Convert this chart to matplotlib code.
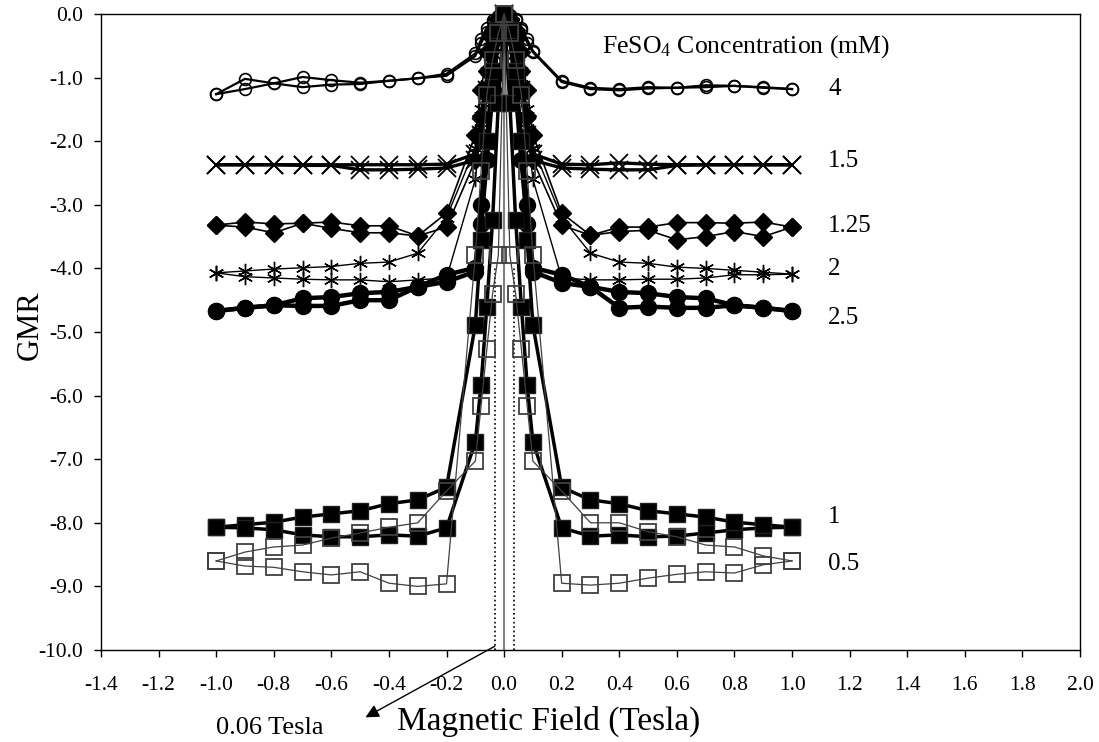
import numpy as np
import matplotlib
matplotlib.use('Agg')
import matplotlib.pyplot as plt

plt.rcParams['font.family'] = 'Liberation Serif'
plt.rcParams['mathtext.fontset'] = 'custom'
plt.rcParams['mathtext.rm'] = 'Liberation Serif'
plt.rcParams['mathtext.default'] = 'regular'
plt.rcParams['axes.unicode_minus'] = False

# field values (Tesla), sweep -1 -> +1 ; the return sweep uses the same grid
field = [-1.0, -0.9, -0.8, -0.7, -0.6, -0.5, -0.4, -0.3, -0.2, -0.1,
         -0.08, -0.06, -0.04, -0.02, 0.0, 0.02, 0.04, 0.06, 0.08, 0.1,
         0.2, 0.3, 0.4, 0.5, 0.6, 0.7, 0.8, 0.9, 1.0]

# GMR values, two sweeps per FeSO4 concentration
gmr_4_a = [-1.26, -1.02, -1.09, -0.99, -1.04, -1.08, -1.05, -1.01, -0.94, -0.62,
           -0.40, -0.22, -0.10, -0.03, 0.0, -0.02, -0.08, -0.25, -0.45, -0.60,
           -1.07, -1.18, -1.20, -1.17, -1.16, -1.12, -1.13, -1.16, -1.18]
gmr_4_b = [-1.26, -1.18, -1.09, -1.15, -1.11, -1.10, -1.05, -1.01, -0.97, -0.66,
           -0.46, -0.28, -0.12, -0.04, 0.0, -0.03, -0.10, -0.22, -0.40, -0.58,
           -1.05, -1.16, -1.18, -1.15, -1.16, -1.15, -1.13, -1.15, -1.18]

gmr_15_a = [-2.37, -2.37, -2.37, -2.37, -2.37, -2.37, -2.37, -2.37, -2.36, -2.20,
            -1.78, -1.20, -0.60, -0.20, 0.0, -0.20, -0.70, -1.30, -1.90, -2.30,
            -2.42, -2.44, -2.45, -2.45, -2.38, -2.37, -2.37, -2.37, -2.37]
gmr_15_b = [-2.37, -2.37, -2.37, -2.38, -2.38, -2.45, -2.45, -2.44, -2.42, -2.30,
            -1.90, -1.30, -0.70, -0.20, 0.0, -0.20, -0.60, -1.20, -1.78, -2.20,
            -2.36, -2.37, -2.34, -2.36, -2.37, -2.37, -2.37, -2.37, -2.37]

gmr_125_a = [-3.32, -3.27, -3.30, -3.29, -3.27, -3.33, -3.33, -3.49, -3.13, -1.90,
             -1.20, -0.60, -0.25, -0.08, 0.0, -0.10, -0.40, -0.90, -1.60, -2.30,
             -3.32, -3.48, -3.42, -3.40, -3.55, -3.50, -3.42, -3.50, -3.35]
gmr_125_b = [-3.32, -3.35, -3.44, -3.29, -3.37, -3.44, -3.44, -3.49, -3.35, -2.30,
             -1.60, -0.90, -0.40, -0.10, 0.0, -0.08, -0.25, -0.60, -1.20, -1.90,
             -3.13, -3.48, -3.35, -3.35, -3.28, -3.28, -3.29, -3.27, -3.35]

gmr_2_a = [-4.07, -4.04, -4.01, -3.99, -3.97, -3.92, -3.90, -3.76, -3.20, -2.10,
           -1.50, -0.90, -0.40, -0.12, 0.0, -0.15, -0.50, -1.10, -1.80, -2.60,
           -4.15, -4.18, -4.18, -4.17, -4.17, -4.15, -4.10, -4.10, -4.09]
gmr_2_b = [-4.07, -4.13, -4.15, -4.17, -4.18, -4.18, -4.21, -4.18, -4.15, -2.60,
           -1.80, -1.10, -0.50, -0.15, 0.0, -0.12, -0.40, -0.90, -1.50, -2.10,
           -3.20, -3.76, -3.90, -3.92, -3.98, -4.00, -4.03, -4.06, -4.09]

gmr_25_a = [-4.67, -4.62, -4.58, -4.47, -4.45, -4.39, -4.37, -4.29, -4.10, -3.99,
            -3.00, -2.00, -1.00, -0.30, 0.0, -0.35, -1.20, -2.30, -3.30, -4.05,
            -4.23, -4.29, -4.62, -4.60, -4.62, -4.62, -4.58, -4.62, -4.67]
gmr_25_b = [-4.67, -4.62, -4.58, -4.59, -4.59, -4.50, -4.50, -4.29, -4.21, -4.05,
            -3.30, -2.30, -1.20, -0.35, 0.0, -0.30, -1.00, -2.00, -3.00, -3.99,
            -4.10, -4.29, -4.37, -4.39, -4.45, -4.47, -4.58, -4.62, -4.67]

gmr_1_a = [-8.07, -8.03, -7.99, -7.91, -7.86, -7.81, -7.70, -7.64, -7.44, -4.89,
           -3.55, -2.00, -0.90, -0.25, 0.0, -1.40, -3.24, -4.60, -5.83, -6.73,
           -8.08, -8.21, -8.19, -8.22, -8.21, -8.16, -8.11, -8.08, -8.07]
gmr_1_b = [-8.07, -8.08, -8.11, -8.19, -8.22, -8.22, -8.19, -8.21, -8.08, -6.73,
           -5.83, -4.60, -3.24, -1.40, 0.0, -0.25, -0.90, -2.00, -3.55, -4.89,
           -7.44, -7.64, -7.70, -7.81, -7.86, -7.91, -7.99, -8.03, -8.07]

gmr_05_a = [-8.60, -8.46, -8.38, -8.35, -8.24, -8.16, -8.07, -8.00, -7.50, -7.03,
            -6.16, -5.27, -4.40, -3.79, 0.0, -0.30, -0.72, -1.27, -2.47, -3.79,
            -8.95, -8.98, -8.95, -8.87, -8.81, -8.77, -8.79, -8.66, -8.60]
gmr_05_b = [-8.60, -8.68, -8.70, -8.77, -8.82, -8.77, -8.95, -9.00, -8.96, -3.79,
            -2.47, -1.27, -0.72, -0.30, 0.0, -3.79, -4.40, -5.27, -6.16, -7.03,
            -7.50, -8.00, -8.00, -8.14, -8.22, -8.35, -8.38, -8.52, -8.60]

conc_labels = ['4', '1.5', '1.25', '2', '2.5', '1', '0.5']
label_y = [-1.28, -2.40, -3.42, -4.11, -4.87, -8.01, -8.75]

x_ticks = [-1.4, -1.2, -1.0, -0.8, -0.6, -0.4, -0.2, 0.0, 0.2, 0.4, 0.6,
           0.8, 1.0, 1.2, 1.4, 1.6, 1.8, 2.0]
y_ticks = [0.0, -1.0, -2.0, -3.0, -4.0, -5.0, -6.0, -7.0, -8.0, -9.0, -10.0]

fig = plt.figure(figsize=(10.99, 7.42), dpi=100)
ax = fig.add_axes([0.0919, 0.124, 0.8908, 0.8571])

# guide lines at zero field and +/- 0.03 T
ax.plot([0, 0], [-10, 0], color='#808080', lw=1.5, zorder=1)
ax.plot([-0.03, -0.03], [-10, -4.0], color='black', lw=1.2, ls=':', zorder=1)
ax.plot([0.035, 0.035], [-10, -4.0], color='black', lw=1.2, ls=':', zorder=1)

def draw(ya, yb, **kw):
    for y in (ya, yb):
        ax.plot(field, y, clip_on=False, **kw)

draw(gmr_4_a, gmr_4_b, color='black', lw=1.6, marker='o', ms=8.5,
     mfc='none', mec='black', mew=1.2, zorder=3)
draw(gmr_15_a, gmr_15_b, color='black', lw=2.4, marker='x', ms=13,
     mec='black', mew=1.3, zorder=3)
draw(gmr_125_a, gmr_125_b, color='black', lw=1.2, marker='D', ms=9,
     mfc='black', mec='black', zorder=3)
draw(gmr_2_a, gmr_2_b, color='black', lw=1.0, marker=(6, 2, 0), ms=11,
     mec='black', mew=1.0, zorder=3)
draw(gmr_25_a, gmr_25_b, color='black', lw=3.2, marker='o', ms=11.5,
     mfc='black', mec='black', zorder=3)
draw(gmr_1_a, gmr_1_b, color='black', lw=2.5, marker='s', ms=11,
     mfc='black', mec='#202020', mew=1.0, zorder=3)
draw(gmr_05_a, gmr_05_b, color='#404040', lw=0.9, marker='s', ms=12,
     mfc='none', mec='#404040', mew=1.3, zorder=4)

for lab, y in zip(conc_labels, label_y):
    ax.text(1.125, y, lab, fontsize=18, ha='left', va='baseline')
ax.text(0.34, -0.61, r'FeSO$_4$ Concentration (mM)', fontsize=18.5,
        ha='left', va='baseline')

ax.annotate('', xy=(-0.49, -11.08), xytext=(-0.024, -9.92),
            xycoords='data', annotation_clip=False,
            arrowprops=dict(arrowstyle='-|>', color='black', lw=1.0,
                            mutation_scale=20))
ax.text(-0.8125, -11.23, '0.06 Tesla', fontsize=19, ha='center', va='center',
        clip_on=False)

ax.set_xlim(-1.4, 2.0)
ax.set_ylim(-10, 0)
ax.set_xticks(x_ticks)
ax.set_yticks(y_ticks)
ax.set_xticklabels([f'{v:.1f}' for v in x_ticks])
ax.set_yticklabels([f'{v:.1f}' for v in y_ticks])
ax.tick_params(axis='both', direction='out', length=5, width=1.0,
               labelsize=15.5)
ax.tick_params(axis='x', pad=14)
ax.tick_params(axis='y', pad=8)
for s in ax.spines.values():
    s.set_linewidth(1.0)

fig.text(549 / 1099, 1 - 730 / 742, 'Magnetic Field (Tesla)', fontsize=24,
         ha='center', va='baseline')
fig.text(30 / 1099, 1 - 325 / 742, 'GMR', fontsize=22, rotation=90,
         ha='center', va='center')

fig.savefig('out.png', dpi=100)
